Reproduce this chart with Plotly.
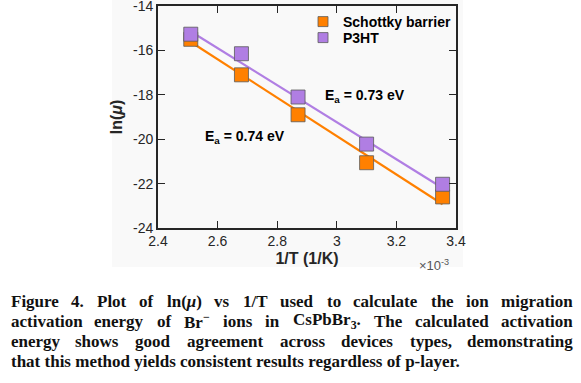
import re
import plotly.graph_objects as go

# ---- data (1/T in units of 1e-3 K^-1) ----
inv_T = [2.51, 2.68, 2.87, 3.10, 3.355]
ln_mu_schottky = [-15.5, -17.1, -18.9, -21.06, -22.6]
ln_mu_p3ht = [-15.27, -16.15, -18.1, -20.22, -22.03]

fit_x = [2.51, 3.355]
fit_schottky = [-15.62, -22.93]
fit_p3ht = [-15.15, -22.2]

series_names = ["Schottky barrier", "P3HT"]
ea_labels = ["E<sub>a</sub> = 0.74 eV", "E<sub>a</sub> = 0.73 eV"]

x_ticks = [2.4, 2.6, 2.8, 3.0, 3.2, 3.4]
x_ticktext = ["2.4", "2.6", "2.8", "3", "3.2", "3.4"]
y_ticks = [-24, -22, -20, -18, -16, -14]
y_ticktext = ["-24", "-22", "-20", "-18", "-16", "-14"]

caption_lines = [
    "Figure 4. Plot of ln(<i>μ</i>) vs 1/T used to calculate the ion migration",
    "activation energy of Br<sup>−</sup> ions in CsPbBr<sub>3</sub>. The calculated activation",
    "energy shows good agreement across devices types, demonstrating",
    "that this method yields consistent results regardless of p-layer.",
]
caption_justified = [True, True, True, False]

ORANGE = "#FF8000"
PURPLE = "#B07EE3"
EDGE = "#5a5a5a"
AX = "#262626"

W, H = 581, 383
L, R, T, B = 158, 125, 6, 155
PW, PH = W - L - R, H - T - B


def px(x):
    return (x - L) / PW


def py(y):
    return (H - B - y) / PH


# approximate advance widths (1/1000 em) of a bold Times-style serif face
SERIF_BOLD = {
    "a": 500, "b": 556, "c": 444, "d": 556, "e": 444, "f": 333, "g": 500, "h": 556,
    "i": 278, "j": 333, "k": 556, "l": 278, "m": 833, "n": 556, "o": 500, "p": 556,
    "q": 556, "r": 444, "s": 389, "t": 333, "u": 556, "v": 500, "w": 722, "x": 500,
    "y": 500, "z": 444, "B": 667, "C": 722, "F": 611, "P": 611, "T": 667,
    ".": 250, ",": 250, "-": 333, "/": 278, "(": 333, ")": 333, " ": 250,
    "μ": 576, "−": 570,
}


def text_width(s, size):
    total, scale = 0.0, 1.0
    for tok in re.split(r"(<[^>]+>)", s):
        if tok.startswith("<"):
            scale = 0.7 if tok in ("<sup>", "<sub>") else (1.0 if tok in ("</sup>", "</sub>") else scale)
            continue
        for ch in tok:
            total += SERIF_BOLD.get(ch, 500 if ch.isdigit() else 520) * scale
    return total / 1000.0 * size


fig = go.Figure()

# fitted lines
fig.add_trace(go.Scatter(x=fit_x, y=fit_schottky, mode="lines",
                         line=dict(color=ORANGE, width=2.2), showlegend=False))
fig.add_trace(go.Scatter(x=fit_x, y=fit_p3ht, mode="lines",
                         line=dict(color=PURPLE, width=2.2), showlegend=False))

# data markers
fig.add_trace(go.Scatter(x=inv_T, y=ln_mu_schottky, mode="markers",
                         marker=dict(symbol="square", size=14, color=ORANGE,
                                     line=dict(color=EDGE, width=0.8)),
                         showlegend=False))
fig.add_trace(go.Scatter(x=inv_T, y=ln_mu_p3ht, mode="markers",
                         marker=dict(symbol="square", size=14, color=PURPLE,
                                     line=dict(color=EDGE, width=0.8)),
                         showlegend=False))

# legend entries (one legend per row for tight spacing)
for name, col, lg in zip(series_names, [ORANGE, PURPLE], ["legend", "legend2"]):
    fig.add_trace(go.Scatter(x=[None], y=[None], mode="markers", name=name, legend=lg,
                             marker=dict(symbol="square", size=10, color=col,
                                         line=dict(color=EDGE, width=0.8))))

annotations = [
    dict(x=2.833, y=-19.92, xref="x", yref="y", text=ea_labels[0], showarrow=False,
         xanchor="right", yanchor="middle",
         font=dict(family="Arial", size=14, color="black", weight="bold")),
    dict(x=2.952, y=-18.05, xref="x", yref="y", text=ea_labels[1], showarrow=False,
         xanchor="left", yanchor="middle",
         font=dict(family="Arial", size=14, color="black", weight="bold")),
    dict(x=px(417), y=py(265), xref="paper", yref="paper", text="×10<sup>-3</sup>",
         showarrow=False, xanchor="left", yanchor="middle",
         font=dict(family="Arial", size=13, color="#555555")),
]

CAP_SIZE = 17
cap_left, cap_right = 10, 574
cap_y0, cap_dy = 301, 20
cap_font = dict(family="Liberation Serif", size=CAP_SIZE, color="#111111", weight="bold")
for i, (line, just) in enumerate(zip(caption_lines, caption_justified)):
    yy = py(cap_y0 + i * cap_dy)
    if not just:
        annotations.append(dict(x=px(cap_left), y=yy, xref="paper", yref="paper", text=line,
                                showarrow=False, xanchor="left", yanchor="middle",
                                borderpad=0, font=cap_font))
        continue
    words = line.split(" ")
    widths = [text_width(w, CAP_SIZE) for w in words]
    gap = (cap_right - cap_left - sum(widths)) / (len(words) - 1)
    xpos = cap_left
    n = len(words)
    for k, (w, wd) in enumerate(zip(words, widths)):
        if k == 0:
            xa, xx = "left", xpos
        elif k == n - 1:
            xa, xx = "right", cap_right
        else:
            xa, xx = "center", xpos + wd / 2
        annotations.append(dict(x=px(xx), y=yy, xref="paper", yref="paper", text=w,
                                showarrow=False, xanchor=xa, yanchor="middle",
                                borderpad=0, font=cap_font))
        xpos += wd + gap

legend_common = dict(xanchor="left", yanchor="middle", bgcolor="rgba(0,0,0,0)", borderwidth=0,
                     font=dict(family="Arial", size=14, color="black", weight="bold"),
                     itemwidth=30, tracegroupgap=0)

fig.update_layout(
    width=W, height=H,
    margin=dict(l=L, r=R, t=T, b=B, autoexpand=False),
    paper_bgcolor="white", plot_bgcolor="rgba(0,0,0,0)",
    font=dict(family="Arial", color=AX),
    showlegend=True,
    legend=dict(x=px(303), y=py(22), **legend_common),
    legend2=dict(x=px(303), y=py(38), **legend_common),
    annotations=annotations,
    shapes=[dict(type="rect", xref="paper", yref="paper", layer="below",
                 x0=px(112), x1=px(463), y0=py(267), y1=py(0),
                 fillcolor="#F9F9F9", line=dict(width=0))],
)

fig.update_xaxes(range=[2.4, 3.4], tickvals=x_ticks, ticktext=x_ticktext,
                 showgrid=False, zeroline=False, showline=True, linecolor=AX, linewidth=1.8,
                 mirror="ticks", ticks="inside", ticklen=7, tickwidth=1.3, tickcolor=AX,
                 ticklabeloverflow="allow", ticklabelstandoff=-1,
                 tickfont=dict(family="Arial", size=14, color=AX),
                 title=dict(text="<b>1/T (1/K)</b>", standoff=5,
                            font=dict(family="Arial", size=16, color=AX)))
fig.update_yaxes(range=[-24, -14], tickvals=y_ticks, ticktext=y_ticktext,
                 showgrid=False, zeroline=False, showline=True, linecolor=AX, linewidth=1.8,
                 mirror="ticks", ticks="inside", ticklen=7, tickwidth=1.3, tickcolor=AX,
                 ticklabeloverflow="allow",
                 tickfont=dict(family="Arial", size=14, color=AX),
                 title=dict(text="<b>ln(<i>μ</i>)</b>", standoff=6,
                            font=dict(family="Arial", size=16, color=AX)))

fig.write_html("out.html", config={"displayModeBar": False},
               post_script="document.body.style.margin='0';")
